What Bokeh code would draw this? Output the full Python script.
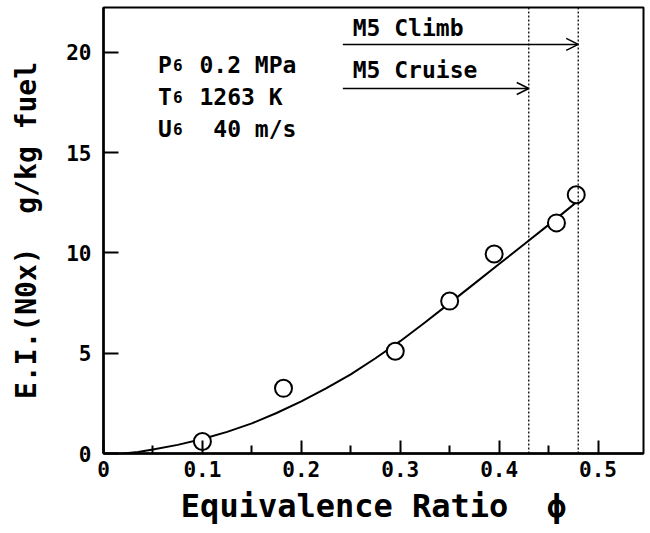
from bokeh.plotting import figure
from bokeh.models import FixedTicker, Span, Arrow, OpenHead
from bokeh.core.properties import value
from bokeh.embed import file_html
from bokeh.resources import INLINE

# measured points
phi = [0.100, 0.182, 0.295, 0.350, 0.395, 0.458, 0.478]
ei_nox = [0.6, 3.25, 5.1, 7.6, 9.95, 11.5, 12.9]

# fitted curve
curve_phi = [0.02, 0.035, 0.05, 0.075, 0.10, 0.125, 0.15, 0.175, 0.20, 0.225,
             0.25, 0.275, 0.30, 0.325, 0.35, 0.375, 0.40, 0.425, 0.45, 0.465, 0.48]
curve_ei = [0.0, 0.07, 0.2, 0.43, 0.72, 1.08, 1.5, 2.02, 2.6, 3.25,
            3.95, 4.75, 5.6, 6.53, 7.5, 8.47, 9.45, 10.42, 11.4, 12.0, 12.6]

# operating points
m5_names = ["M5 Climb", "M5 Cruise"]
m5_phi = [0.48, 0.43]

x_ticks = [0, 0.1, 0.2, 0.3, 0.4, 0.5]
x_tick_labels = ["0", "0.1", "0.2", "0.3", "0.4", "0.5"]
y_ticks = [0, 5, 10, 15, 20]

NB = "\u00a0"
cond_main = ["P" + NB + NB + "0.2" + NB + "MPa",
             "T" + NB + NB + "1263" + NB + "K",
             "U" + NB * 3 + "40" + NB + "m/s"]
cond_sub = ["6", "6", "6"]

FONT = "DejaVu Sans Mono"

p = figure(width=650, height=533, x_range=(0, 0.546), y_range=(0, 22.24),
           output_backend="svg", toolbar_location=None,
           min_border_left=103, min_border_right=7, min_border_top=7,
           min_border_bottom=80)
p.background_fill_color = "white"
p.border_fill_color = "white"
p.grid.visible = False
p.outline_line_color = "black"
p.outline_line_width = 2
p.outline_line_alpha = 1

p.xaxis.ticker = FixedTicker(ticks=x_ticks,
                             minor_ticks=[t + 0.05 for t in x_ticks])
p.xaxis.major_label_overrides = {t: l for t, l in zip(x_ticks, x_tick_labels)}
p.yaxis.ticker = FixedTicker(ticks=y_ticks, minor_ticks=[])

for ax in (p.xaxis, p.yaxis):
    ax.axis_line_width = 2.5
    ax.axis_line_color = "black"
    ax.major_tick_out = 0
    ax.minor_tick_out = 0
    ax.major_tick_line_width = 2
    ax.minor_tick_line_width = 2
    ax.major_label_text_font = FONT
    ax.major_label_text_font_style = "bold"
    ax.major_label_text_font_size = "21px"
    ax.major_label_text_color = "black"
    ax.axis_label_text_font = FONT
    ax.axis_label_text_font_style = "bold"
    ax.axis_label_text_color = "black"

p.xaxis.major_tick_in = 13
p.xaxis.minor_tick_in = 8
p.yaxis.major_tick_in = 15
p.xaxis.major_label_standoff = 7
p.yaxis.major_label_standoff = 12

p.xaxis.axis_label = "Equivalence" + NB + "Ratio" + NB + NB + "\u03d5"
p.xaxis.axis_label_text_font_size = "32px"
p.xaxis.axis_label_standoff = 7
p.yaxis.axis_label = "E.I.(N0x)" + NB + NB + "g/kg" + NB + "fuel"
p.yaxis.axis_label_text_font_size = "28px"
p.yaxis.axis_label_standoff = 20

# dotted vertical lines at operating points
for loc in m5_phi:
    p.add_layout(Span(location=loc, dimension="height", line_color="black",
                      line_dash="2 2", line_width=1.3))

# curve and points
p.line(curve_phi, curve_ei, line_color="black", line_width=2)
p.scatter(phi, ei_nox, size=17, marker="circle", fill_color="white",
          line_color="black", line_width=2)

# arrows with labels
label_y = [21.2, 19.1]
arrow_y = [20.4, 18.2]
for name, loc, ly, ay in zip(m5_names, m5_phi, label_y, arrow_y):
    p.add_layout(Arrow(end=OpenHead(size=12, line_width=1.5, line_color="black"),
                       x_start=0.242, y_start=ay, x_end=loc, y_end=ay,
                       line_width=1.5, line_color="black"))
p.text(x=[0.252, 0.252], y=label_y, text=[n.replace(" ", NB) for n in m5_names],
       text_font=value(FONT), text_font_style="bold", text_font_size="23px",
       text_baseline="middle", text_color="black")

# condition text (with subscript 6)
cond_y = [19.35, 17.76, 16.19]
p.text(x=[0.055] * 3, y=cond_y, text=cond_main,
       text_font=value(FONT), text_font_style="bold", text_font_size="23px",
       text_baseline="alphabetic", text_color="black")
p.text(x=[0.0703] * 3, y=cond_y, text=cond_sub,
       text_font=value(FONT), text_font_style="bold", text_font_size="16px",
       text_baseline="alphabetic", text_color="black")

open("out.html", "w").write(file_html(p, INLINE))
